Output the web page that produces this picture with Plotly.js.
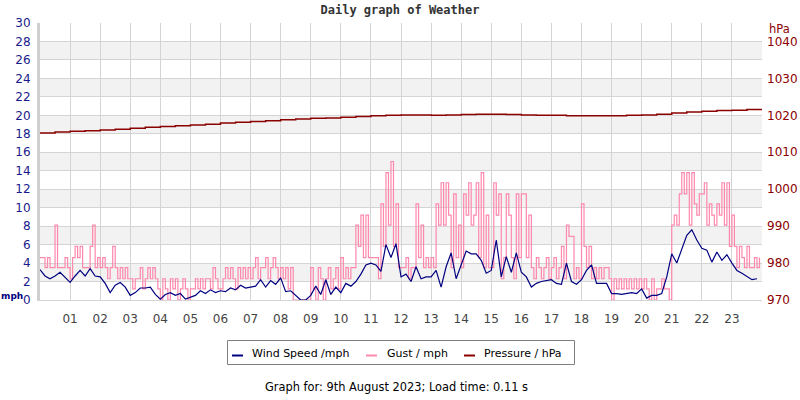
<!DOCTYPE html>
<html><head><meta charset="utf-8">
<script src="https://cdn.plot.ly/plotly-3.0.1.min.js"></script>
<style>html,body{margin:0;padding:0;background:#fff}#chart{width:800px;height:400px}</style>
</head><body><div id="chart"></div>
<script>
// Wind speed (mph), one value per 10 minutes, 00:00 .. 23:50
const windSpeed = [
 3.3,2.6,2.3,2.6,3.0,2.4,
 1.9,2.6,3.2,2.6,3.4,2.6,
 2.5,1.8,0.8,1.6,1.9,1.4,
 0.5,0.8,1.3,1.3,1.4,0.6,
 0.1,0.6,0.8,0.5,0.7,0.1,
 0.3,0.5,1.0,0.7,1.1,0.8,
 1.0,0.9,1.3,1.1,1.6,1.3,
 1.4,1.5,2.2,1.4,2.1,1.7,
 2.4,0.9,1.0,0.5,0.0,0.0,
 0.5,1.5,0.6,2.2,0.6,1.4,
 0.8,1.8,1.5,2.0,2.8,3.8,
 4.0,3.8,3.1,6.0,4.6,6.1,
 2.5,2.8,2.0,3.6,2.3,2.5,
 2.5,3.2,1.4,3.6,5.1,2.3,
 3.8,5.3,5.0,5.0,4.3,2.9,
 3.2,6.5,2.5,4.7,3.0,5.1,
 3.0,2.5,1.4,1.8,2.0,2.1,
 2.2,1.8,1.7,4.0,2.0,1.7,
 2.2,3.2,3.8,1.8,1.8,1.8,
 0.7,0.7,0.6,0.7,0.8,0.7,
 1.2,0.2,0.5,0.5,0.7,2.5,
 5.0,4.0,5.4,7.0,7.6,6.5,
 5.6,5.4,4.1,5.2,4.3,4.9,
 4.0,3.2,2.9,2.5,2.2,2.3
];
// Gust (mph), one value per 5 minutes, 00:00 .. 23:55
const gust = [
 4.6,4.6,3.5,4.6,3.5,3.5, 8.1,3.5,3.5,3.5,4.6,3.5,
 2.3,4.6,5.8,4.6,5.8,3.5, 3.5,3.5,5.8,8.1,3.5,4.6,
 3.5,4.6,3.5,2.3,3.5,5.8, 3.5,2.3,3.5,2.3,3.5,2.3,
 2.3,1.2,2.3,2.3,3.5,1.2, 2.3,3.5,2.3,3.5,2.3,1.2,
 0,2.3,1.2,0,2.3,1.2, 2.3,0,1.2,2.3,1.2,0,
 1.2,1.2,2.3,1.2,2.3,1.2, 2.3,2.3,1.2,3.5,2.3,1.2,
 1.2,2.3,3.5,2.3,3.5,2.3, 1.2,3.5,2.3,3.5,2.3,3.5,
 2.3,3.5,4.6,2.3,3.5,3.5, 4.6,2.3,3.5,4.6,3.5,2.3,
 3.5,2.3,3.5,1.2,3.5,0, 0,0,0,0,0,0,
 3.5,1.2,0,3.5,2.3,0, 2.3,3.5,1.2,2.3,3.5,1.2,
 4.6,2.3,3.5,2.3,3.5,3.5, 8.1,5.8,9.2,4.6,9.2,4.6,
 4.6,4.6,4.6,2.3,10.4,5.8, 13.8,8.1,15.0,5.8,10.4,3.5,
 3.5,3.5,4.6,2.3,3.5,3.5, 10.4,4.6,8.1,3.5,4.6,3.5,
 4.6,3.5,10.4,8.1,12.7,8.1, 12.7,9.2,3.5,11.5,4.6,8.1,
 3.5,11.5,9.2,12.7,8.1,9.2, 12.7,4.6,13.8,3.5,9.2,3.5,
 3.5,12.7,9.2,11.5,2.3,4.6, 11.5,9.2,4.6,2.3,11.5,4.6,
 11.5,11.5,4.6,9.2,3.5,2.3, 4.6,3.5,2.3,3.5,4.6,2.3,
 3.5,4.6,2.3,3.5,5.8,2.3, 8.1,6.9,6.9,2.3,3.5,2.3,
 10.4,5.8,3.5,5.8,2.3,3.5, 2.3,3.5,2.3,3.5,3.5,2.3,
 0,2.3,1.2,2.3,1.2,2.3, 1.2,2.3,1.2,2.3,1.2,2.3,
 1.2,2.3,1.2,0,2.3,0, 1.2,1.2,2.3,1.2,1.2,0,
 8.1,9.2,8.1,11.5,13.8,11.5, 13.8,8.1,13.8,10.4,9.2,11.5,
 11.5,12.7,8.1,10.4,9.2,8.1, 10.4,9.2,12.7,8.1,12.7,5.8,
 9.2,5.8,3.5,5.8,4.6,3.5, 5.8,3.5,3.5,4.6,3.5,4.6
];
// Pressure (hPa), one value per 30 minutes, 00:00 .. 24:00
const pressure = [
 1015.2,1015.5, 1015.7,1015.8, 1016.0,1016.2, 1016.5,1016.8,
 1017.0,1017.2, 1017.4,1017.6, 1017.9,1018.1, 1018.3,1018.5,
 1018.8,1019.0, 1019.2,1019.3, 1019.5,1019.7, 1019.9,1020.0,
 1020.1,1020.1, 1020.0,1020.1, 1020.2,1020.3, 1020.3,1020.2,
 1020.1,1020.0, 1020.0,1019.9, 1019.9,1019.9, 1019.9,1020.0,
 1020.1,1020.3, 1020.6,1020.9, 1021.1,1021.3, 1021.4,1021.6,
 1021.7
];
const hourLabels = ["01","02","03","04","05","06","07","08","09","10","11","12",
 "13","14","15","16","17","18","19","20","21","22","23"];
const hourTicks = hourLabels.map(h => parseInt(h, 10));
const seriesNames = ["Wind Speed /mph", "Gust / mph", "Pressure / hPa"];

const windX = windSpeed.map((_, i) => i * 10 / 60);
const gustX = gust.map((_, i) => i * 5 / 60);
const presX = pressure.map((_, i) => i * 30 / 60);

const NAVY = '#000080', PINK = '#ff88ad', DARKRED = '#8b0000';
const seriesColors = [NAVY, PINK, DARKRED];

const traces = [
 {x: gustX, y: gust, type: 'scatter', mode: 'lines', name: seriesNames[1],
  line: {color: PINK, width: 1.2, shape: 'hv'}, hoverinfo: 'skip'},
 {x: windX, y: windSpeed, type: 'scatter', mode: 'lines', name: seriesNames[0],
  line: {color: NAVY, width: 1.2}, hoverinfo: 'skip'},
 {x: presX, y: pressure, type: 'scatter', mode: 'lines', name: seriesNames[2], yaxis: 'y2',
  line: {color: DARKRED, width: 1.5, shape: 'hv'}, hoverinfo: 'skip'}
];

// pixel -> paper helpers (plot area: x 40..762, y 23..300)
const PL = 40, PW = 722, PB = 300, PH = 277;
const px = v => (v - PL) / PW;
const py = v => (PB - v) / PH;

const shapes = [];
for (let v = 2; v < 30; v += 4) {
 shapes.push({type: 'rect', xref: 'paper', yref: 'y', x0: 0, x1: 1, y0: v, y1: v + 2,
  fillcolor: '#f2f2f2', line: {width: 0}, layer: 'below'});
}
// legend box
shapes.push({type: 'rect', xref: 'paper', yref: 'paper', x0: px(227.5), x1: px(574.5), y0: py(364.5), y1: py(340.5),
 line: {color: '#808080', width: 1}, fillcolor: 'rgba(0,0,0,0)'});
const symX = [232, 366, 464];
const txtX = [251.5, 386.5, 484];
const annotations = [];
seriesNames.forEach((name, i) => {
 shapes.push({type: 'line', xref: 'paper', yref: 'paper', x0: px(symX[i]), x1: px(symX[i] + 11),
  y0: py(355.5), y1: py(355.5), line: {color: seriesColors[i], width: 2}});
 annotations.push({text: name, xref: 'paper', yref: 'paper', x: px(txtX[i]), y: py(353.5),
  xanchor: 'left', yanchor: 'middle', showarrow: false, xshift: -2,
  font: {family: 'DejaVu Sans, sans-serif', size: 11, color: '#000'}});
});
annotations.push(
 {text: '<b>mph</b>', xref: 'paper', yref: 'paper', x: px(11.5), y: py(296), xanchor: 'center', yanchor: 'middle',
  showarrow: false, font: {family: 'DejaVu Sans, sans-serif', size: 9, color: '#000080'}},
 {text: 'hPa', xref: 'paper', yref: 'paper', x: px(792), y: py(29), xanchor: 'right', yanchor: 'middle',
  showarrow: false, font: {family: 'DejaVu Sans, sans-serif', size: 11.5, color: '#8b0000'}},
 {text: 'Graph for: 9th August 2023; Load time: 0.11 s', xref: 'paper', yref: 'paper', x: px(396), y: py(387),
  xanchor: 'center', yanchor: 'middle', showarrow: false,
  font: {family: 'DejaVu Sans, sans-serif', size: 11.4, color: '#000'}}
);

const layout = {
 width: 800, height: 400,
 margin: {l: 40, r: 38, t: 23, b: 100},
 paper_bgcolor: '#fff', plot_bgcolor: '#fff',
 font: {family: 'DejaVu Sans, sans-serif', size: 12},
 showlegend: false,
 title: {text: '<b>Daily graph of Weather</b>', x: 0.5, xanchor: 'center', y: 0.985, yanchor: 'top',
  font: {family: 'DejaVu Sans Mono, monospace', size: 12, color: '#333'}},
 xaxis: {range: [0, 24], tickvals: hourTicks, ticktext: hourLabels, showgrid: true,
  gridcolor: '#d4d4d4', gridwidth: 1, zeroline: false, showline: true, linecolor: '#d4d4d4',
  ticks: '', ticklabelstandoff: 8, tickfont: {family: 'DejaVu Sans, sans-serif', size: 12, color: '#444'}, fixedrange: true},
 yaxis: {range: [0, 30], dtick: 2, tick0: 0, showgrid: true, gridcolor: '#d4d4d4', zeroline: false,
  showline: true, linecolor: '#cfcfcf', linewidth: 3, ticks: '', ticklabelstandoff: 4,
  tickfont: {family: 'DejaVu Sans, sans-serif', size: 12, color: '#1a1a8c'}, fixedrange: true},
 yaxis2: {range: [970, 1045], tickvals: [970,980,990,1000,1010,1020,1030,1040], overlaying: 'y', side: 'right',
  showgrid: false, zeroline: false, showline: false, ticks: '', ticklabelstandoff: 4,
  tickfont: {family: 'DejaVu Sans, sans-serif', size: 12, color: '#8b0000'}, fixedrange: true},
 shapes: shapes,
 annotations: annotations
};

Plotly.newPlot('chart', traces, layout, {displayModeBar: false, staticPlot: true});
</script>
</body></html>
